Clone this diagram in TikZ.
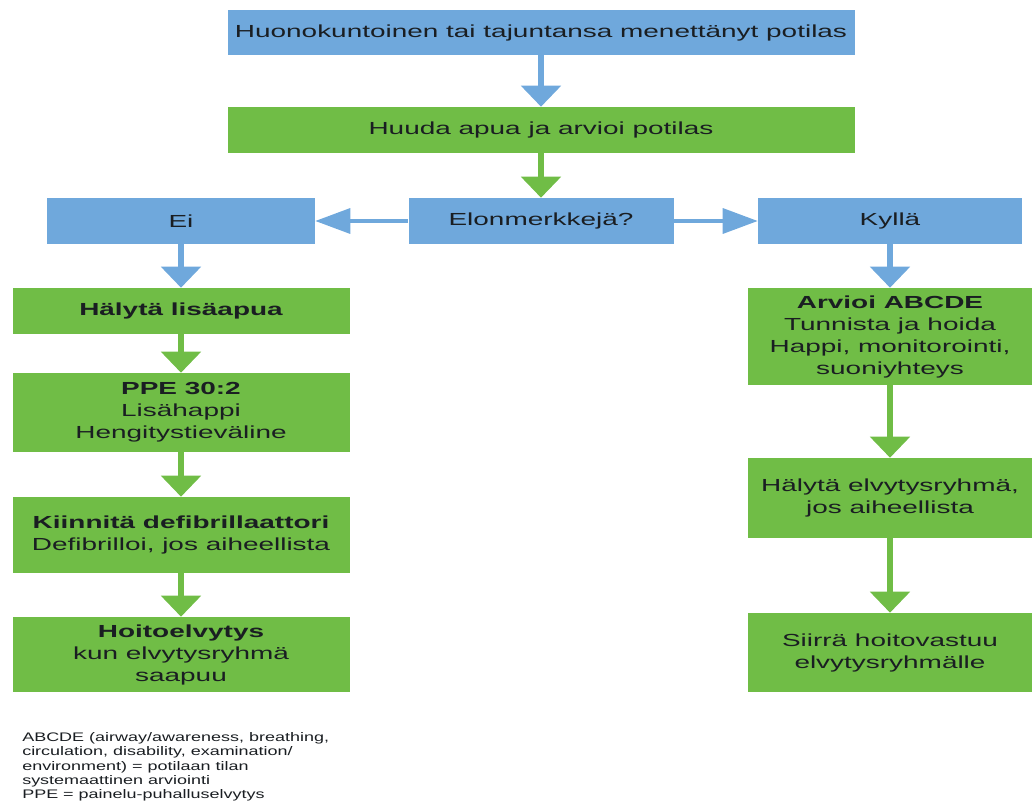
\documentclass[tikz,border=0pt]{standalone}
\usepackage{fontspec}
\setmainfont{Liberation Sans}[FakeStretch=1.6]
\newfontfamily\notefont{Liberation Sans}[FakeStretch=1.45]
\usetikzlibrary{arrows.meta}

\definecolor{boxblue}{RGB}{111,168,220}
\definecolor{boxgreen}{RGB}{112,189,70}
\definecolor{inkdark}{RGB}{26,30,34}

\tikzset{
  % sizes are given in pixel units (1px = 0.75pt)
  sz/.style 2 args={minimum width=#1*0.75pt, minimum height=#2*0.75pt},
  box/.style={rectangle, draw=none, inner sep=0pt, align=center,
    text=inkdark, font=\fontsize{13.1pt}{16.5pt}\selectfont},
  bluebox/.style={box, fill=boxblue},
  greenbox/.style={box, fill=boxgreen},
  vdown/.style={line width=4.3pt,
    -{Triangle[width=29.25pt, length=15.75pt]}},
  hside/.style={line width=2.6pt,
    -{Triangle[width=18.75pt, length=26.25pt]}},
  note/.style={inner sep=0pt, align=left, text=inkdark,
    font=\notefont\fontsize{9.3pt}{10.8pt}\selectfont},
}

\begin{document}
\begin{tikzpicture}[x=0.75pt, y=-0.75pt]
  \useasboundingbox (0,0) rectangle (1032,805);

  % top of the chart
  \node[bluebox, sz={627}{45}] (start) at (541,32.5)
    {Huonokuntoinen tai tajuntansa menettänyt potilas};
  \node[greenbox, sz={627}{46}] (call) at (541,130)
    {Huuda apua ja arvioi potilas};

  % decision row
  \node[bluebox, sz={265}{46}] (signs) at (541,221) {Elonmerkkejä?};
  \node[bluebox, sz={268}{46}] (no) at (181,221) {Ei};
  \node[bluebox, sz={264}{46}] (yes) at (890,221) {Kyllä};

  % left branch
  \node[greenbox, sz={337}{46}] (alarm) at (181,311)
    {\bfseries Hälytä lisäapua};
  \node[greenbox, sz={337}{79}] (ppe) at (181,412.5)
    {\bfseries PPE 30:2\\Lisähappi\\Hengitystieväline};
  \node[greenbox, sz={337}{76}] (defib) at (181,535)
    {\bfseries Kiinnitä defibrillaattori\\Defibrilloi, jos aiheellista};
  \node[greenbox, sz={337}{75}] (care) at (181,654.5)
    {\bfseries Hoitoelvytys\\kun elvytysryhmä\\saapuu};

  % right branch
  \node[greenbox, sz={284}{97}] (abcde) at (890,336.5)
    {\bfseries Arvioi ABCDE\\Tunnista ja hoida\\Happi, monitorointi,\\suoniyhteys};
  \node[greenbox, sz={284}{80}] (team) at (890,498)
    {Hälytä elvytysryhmä,\\jos aiheellista};
  \node[greenbox, sz={284}{79}] (handover) at (890,652.5)
    {Siirrä hoitovastuu\\elvytysryhmälle};

  % connectors
  \draw[vdown, boxblue] (start) -- (call);
  \draw[vdown, boxgreen] (call) -- (signs);
  \draw[hside, boxblue] (signs) -- (no);
  \draw[hside, boxblue] (signs) -- (yes);
  \draw[vdown, boxblue] (no) -- (alarm);
  \draw[vdown, boxgreen] (alarm) -- (ppe);
  \draw[vdown, boxgreen] (ppe) -- (defib);
  \draw[vdown, boxgreen] (defib) -- (care);
  \draw[vdown, boxblue] (yes) -- (abcde);
  \draw[vdown, boxgreen] (abcde) -- (team);
  \draw[vdown, boxgreen] (team) -- (handover);

  % abbreviations
  \node[note, anchor=north west] (abbr) at (22,732)
    {ABCDE (airway/awareness, breathing,\\
     circulation, disability, examination/\\
     environment) = potilaan tilan\\
     systemaattinen arviointi\\
     PPE = painelu-puhalluselvytys};
\end{tikzpicture}
\end{document}
